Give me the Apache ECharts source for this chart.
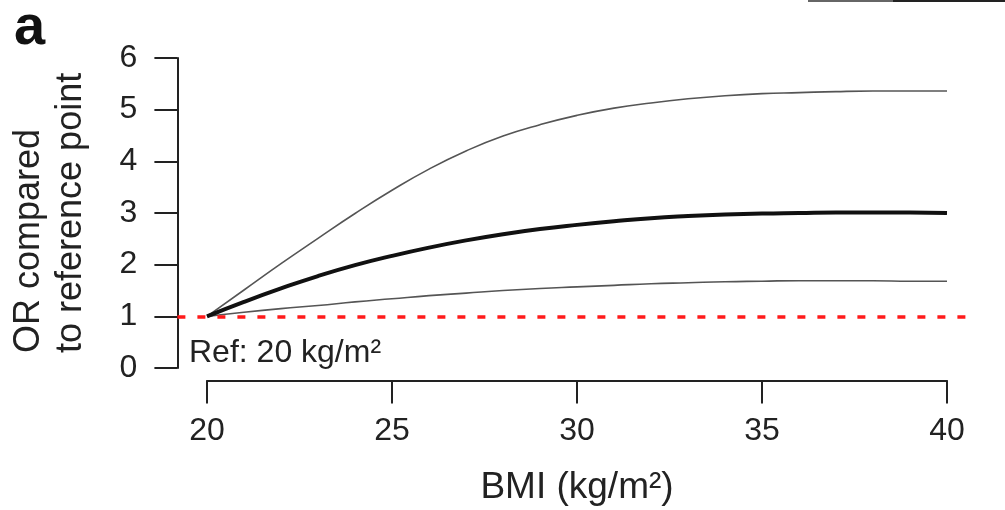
<!DOCTYPE html>
<html><head><meta charset="utf-8">
<script src="https://cdn.jsdelivr.net/npm/echarts@6/dist/echarts.min.js"></script>
<style>html,body{margin:0;padding:0;background:#fff}#c{width:1005px;height:510px}</style>
</head><body><div id="c"></div>
<script>
// BMI grid (x) and odds ratios relative to BMI 20
const bmi     = [20,21,22,23,24,25,26,27,28,29,30,31,32,33,34,35,36,37,38,39,40];
const orUpper = [1.00,1.51,2.02,2.51,2.99,3.44,3.85,4.20,4.49,4.71,4.89,5.03,5.13,5.21,5.27,5.31,5.33,5.35,5.36,5.36,5.36];
const orMid   = [1.00,1.28,1.54,1.78,1.99,2.17,2.33,2.47,2.59,2.69,2.77,2.84,2.90,2.94,2.97,2.99,3.00,3.01,3.01,3.01,3.00];
const orLower = [1.00,1.08,1.15,1.21,1.28,1.34,1.40,1.45,1.50,1.54,1.57,1.60,1.63,1.65,1.67,1.68,1.69,1.69,1.69,1.68,1.68];
const xTickLabels = [20,25,30,35,40];
const yTickLabels = [0,1,2,3,4,5,6];
const refOR = 1;
const panelLabel = 'a';
const xTitle = 'BMI (kg/m²)';
const yTitleLines = ['OR compared', 'to reference point'];
const refLabel = 'Ref: 20 kg/m²';

const FONT = "'Liberation Sans', Arial, Helvetica, sans-serif";
const xMin = xTickLabels[0], xMax = xTickLabels[xTickLabels.length-1];
const yMin = yTickLabels[0], yMax = yTickLabels[yTickLabels.length-1];
const xPad = (xMax - xMin) * 0.04, yPad = (yMax - yMin) * 0.04;

const chart = echarts.init(document.getElementById('c'), null, {renderer:'canvas'});
const pairs = arr => bmi.map((x,i)=>[x, arr[i]]);
const lineSeries = (name, arr, color, width, z) => ({
  name, type:'line', xAxisIndex:0, yAxisIndex:0, data:pairs(arr),
  smooth:0.5, showSymbol:false, symbol:'none',
  lineStyle:{color, width}, z, silent:true, animation:false
});

chart.setOption({
  animation:false,
  backgroundColor:'#fff',
  grid:[
    {left:177.4, right:28.4, top:45.6, bottom:129.6},
    {left:207, right:58, top:58, bottom:142}
  ],
  xAxis:[
    {gridIndex:0, type:'value', min:xMin-xPad, max:xMax+xPad, show:false},
    {gridIndex:1, type:'value', min:xMin, max:xMax, interval:5, offset:12.4, position:'bottom',
     axisLine:{show:true, onZero:false, lineStyle:{color:'#222', width:2}},
     axisTick:{show:true, length:23, lineStyle:{color:'#222', width:2}},
     axisLabel:{color:'#222', fontSize:32, fontFamily:FONT, margin:35},
     splitLine:{show:false}}
  ],
  yAxis:[
    {gridIndex:0, type:'value', min:yMin-yPad, max:yMax+yPad, show:false},
    {gridIndex:1, type:'value', min:yMin, max:yMax, interval:1, offset:29.6, position:'left',
     axisLine:{show:true, onZero:false, lineStyle:{color:'#222', width:2}},
     axisTick:{show:true, length:23, lineStyle:{color:'#222', width:2}},
     axisLabel:{color:'#222', fontSize:32, fontFamily:FONT, margin:40},
     splitLine:{show:false}}
  ],
  series:[
    {type:'line', xAxisIndex:0, yAxisIndex:0, data:[], z:1,
     markLine:{silent:true, symbol:'none', label:{show:false},
       lineStyle:{color:'#ff1a1a', width:3.5, type:[8,12]},
       data:[{yAxis:refOR}]}},
    lineSeries('upper', orUpper, '#555', 1.6, 3),
    lineSeries('lower', orLower, '#555', 1.6, 3),
    lineSeries('OR', orMid, '#111', 4, 4)
  ],
  graphic:[
    {type:'text', left:14, top:1, style:{text:panelLabel, font:"bold 56px "+FONT, fill:'#111'}},
    {type:'text', x:11, y:353, rotation:Math.PI/2,
     style:{text:yTitleLines[0], font:"36px "+FONT, fill:'#222', textAlign:'left', textVerticalAlign:'top'}},
    {type:'text', x:53, y:353, rotation:Math.PI/2,
     style:{text:yTitleLines[1], font:"36px "+FONT, fill:'#222', textAlign:'left', textVerticalAlign:'top'}},
    {type:'text', x:577, y:469, style:{text:xTitle, font:"37px "+FONT, fill:'#222', textAlign:'center', textVerticalAlign:'top'}},
    {type:'text', x:189, y:337, style:{text:refLabel, font:"32px "+FONT, fill:'#222', textAlign:'left', textVerticalAlign:'top'}},
    {type:'line', shape:{x1:808, y1:1, x2:893, y2:1}, style:{stroke:'#666', lineWidth:2}},
    {type:'line', shape:{x1:893, y1:1, x2:1005, y2:1}, style:{stroke:'#222', lineWidth:2}}
  ]
});
</script></body></html>
